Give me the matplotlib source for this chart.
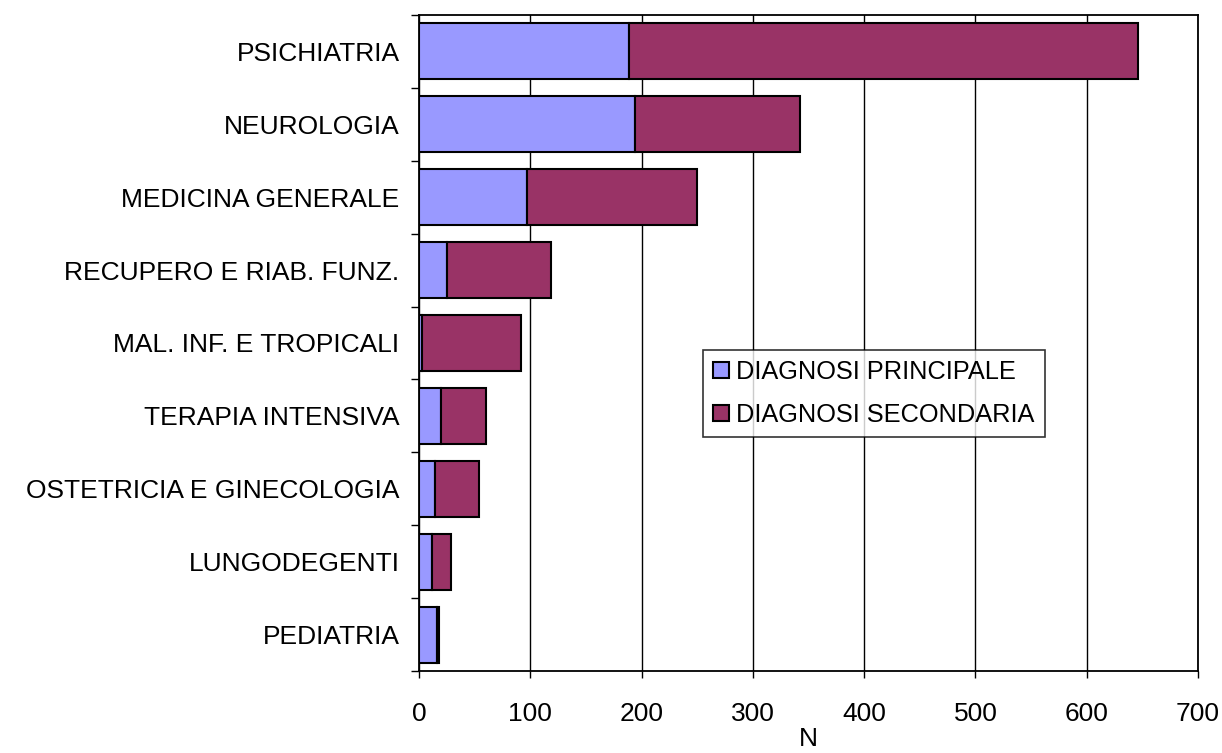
import matplotlib
matplotlib.use("Agg")
import matplotlib.pyplot as plt
import numpy as np

plt.rcParams['font.family'] = ['Liberation Sans', 'DejaVu Sans']

categories = ["PSICHIATRIA", "NEUROLOGIA", "MEDICINA GENERALE",
              "RECUPERO E RIAB. FUNZ.", "MAL. INF. E TROPICALI",
              "TERAPIA INTENSIVA", "OSTETRICIA E GINECOLOGIA",
              "LUNGODEGENTI", "PEDIATRIA"]
principale = [189, 194, 97, 25, 3, 20, 14, 12, 16]
secondaria = [457, 148, 153, 94, 89, 40, 40, 17, 2]
series_names = ["DIAGNOSI PRINCIPALE", "DIAGNOSI SECONDARIA"]
x_ticks = [0, 100, 200, 300, 400, 500, 600, 700]

fig = plt.figure(figsize=(12.22, 7.53), dpi=100)
ax = fig.add_axes([419/1222, 1-671/753, (1198-419)/1222, (671-15)/753])

y = np.arange(len(categories))
h = 1/1.3
ax.barh(y, principale, height=h, color='#9999FF', edgecolor='black',
        linewidth=1.5, label=series_names[0], zorder=3)
ax.barh(y, secondaria, left=principale, height=h, color='#993366',
        edgecolor='black', linewidth=1.5, label=series_names[1], zorder=3)

ax.set_ylim(len(categories)-0.5, -0.5)
ax.set_xlim(0, 700)
ax.set_xticks(x_ticks)
ax.set_xticklabels([str(v) for v in x_ticks], fontsize=19)
ax.set_yticks(y)
ax.set_yticklabels(categories, fontsize=19)
ax.set_yticks(np.arange(len(categories)+1)-0.5, minor=True)
ax.tick_params(axis='y', which='major', length=0, pad=14)
ax.tick_params(axis='y', which='minor', length=6, width=1, direction='out')
ax.tick_params(axis='x', which='major', length=5, width=1, direction='out', pad=17)
ax.xaxis.grid(True, color='black', linewidth=1, zorder=0)
ax.set_axisbelow(True)
for s in ax.spines.values():
    s.set_linewidth(1.3)
    s.set_color('black')
ax.set_xlabel("N", fontsize=19, labelpad=1)

leg = ax.legend(loc='center', bbox_to_anchor=(0.584, 0.423), fontsize=18.3,
                frameon=True, fancybox=False, edgecolor='black',
                handlelength=0.6, handleheight=0.6, handletextpad=0.3,
                labelspacing=0.72, borderpad=0.4, borderaxespad=0)
leg.get_frame().set_linewidth(1.2)

fig.savefig("out.png", dpi=100)
